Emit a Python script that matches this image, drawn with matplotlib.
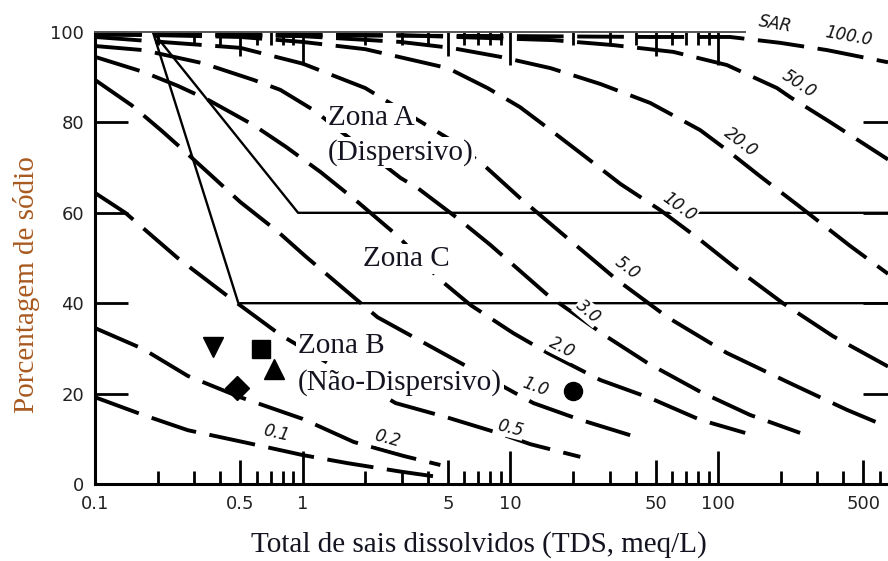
import numpy as np
import matplotlib
matplotlib.use('Agg')
import matplotlib.pyplot as plt
from matplotlib.ticker import NullFormatter

# ---------------------------------------------------------------- data
# SAR curves: total dissolved salts (meq/L) vs percent sodium
tds_sar01 = [0.1, 0.17, 0.28, 0.54, 1.0, 1.65, 3.0, 4.6]
pct_sar01 = [19.2, 15.3, 11.9, 9.1, 6.4, 4.6, 2.7, 1.5]
tds_sar02 = [0.1, 0.17, 0.28, 0.5, 1.0, 1.76, 3.06, 4.6]
pct_sar02 = [34.5, 29.9, 23.9, 19.2, 14.4, 9.3, 6.2, 4.2]
tds_sar05 = [0.1, 0.14, 0.25, 0.44, 0.78, 2.8, 4.9, 8.7, 12.5, 21.7]
pct_sar05 = [64.4, 60.0, 50.0, 41.4, 33.0, 17.9, 14.8, 11.3, 8.8, 6.0]
tds_sar1 = [0.1, 0.15, 0.21, 0.26, 0.36, 0.5, 0.76, 1.03, 1.52, 2.29, 12.9, 21.7, 37.7]
pct_sar1 = [89.4, 83.8, 78.1, 74.3, 68.4, 62.4, 55.8, 50.4, 43.8, 36.9, 17.9, 14.2, 10.8]
tds_sar2 = [0.1, 0.17, 0.25, 0.35, 0.58, 0.83, 1.22, 1.84, 2.86, 4.61, 6.42, 10.3, 15.1,
            27.1, 47.1, 81.9, 135]
pct_sar2 = [94.5, 91.2, 88.1, 85.0, 79.4, 74.6, 69.0, 62.4, 54.9, 45.1, 39.6, 33.4, 29.0,
            23.0, 19.0, 14.2, 11.3]
tds_sar3 = [0.1, 0.17, 0.33, 0.58, 0.78, 1.13, 2.96, 3.57, 5.56, 8.0, 15.1, 21.7, 29.3,
            45.6, 82, 142, 248]
pct_sar3 = [96.9, 96.0, 93.1, 89.4, 87.2, 82.7, 67.7, 65.5, 58.8, 52.9, 41.8, 36.7, 32.5,
            26.8, 20.4, 15.3, 11.3]
tds_sar5 = [0.1, 0.5, 1.0, 2.0, 5.0, 7.42, 11.1, 18.8, 32.7, 57, 110, 222, 417, 657]
pct_sar5 = [98.9, 96.5, 93.0, 87.6, 76.5, 70.6, 63.3, 54.4, 45.1, 36.9, 29.0, 22.3, 16.4, 12.6]
tds_sar10 = [0.1, 0.5, 1.0, 2.0, 5.0, 7.76, 11.1, 15.6, 23.4, 33.8, 52.6, 81.9, 118, 205,
             357, 657]
pct_sar10 = [99.6, 98.9, 97.8, 96.2, 92.0, 87.6, 83.4, 78.3, 72.1, 66.4, 60.6, 54.0, 48.2,
             40.0, 32.7, 26.0]
tds_sar20 = [0.1, 0.98, 2.96, 5.15, 8.95, 15.6, 27.1, 47.1, 81.9, 110, 159, 248, 431, 657]
pct_sar20 = [99.6, 99.1, 97.8, 96.5, 94.5, 92.0, 88.5, 84.3, 78.3, 73.9, 68.1, 61.3, 52.7, 46.5]
tds_sar50 = [0.1, 2.96, 16.1, 31.3, 60.8, 110, 192, 222, 345, 657]
pct_sar50 = [99.6, 99.3, 98.2, 97.1, 95.6, 92.7, 87.6, 85.6, 80.1, 71.8]
tds_sar100 = [0.1, 10, 47, 114, 199, 334, 657]
pct_sar100 = [99.4, 99.1, 98.9, 98.9, 97.6, 96.0, 93.3]

sar_names = ['0.1', '0.2', '0.5', '1.0', '2.0', '3.0', '5.0', '10.0', '20.0', '50.0', '100.0']

# zone boundaries (solid lines)
zone_a_tds = [0.19, 0.95, 657]
zone_a_pct = [100, 60, 60]
zone_b_tds = [0.19, 0.49, 657]
zone_b_pct = [100, 40, 40]

# soil samples
sample_tds = [0.37, 0.63, 0.73, 0.48, 20]
sample_pct = [30.3, 29.9, 25.4, 21.2, 20.6]
sample_marker = ['v', 's', '^', 'D', 'o']

x_ticks = [0.1, 0.5, 1, 5, 10, 50, 100, 500]
x_ticklabels = ['0.1', '0.5', '1', '5', '10', '50', '100', '500']
x_minor = [0.2, 0.3, 0.4, 0.6, 0.7, 0.8, 0.9, 2, 3, 4, 6, 7, 8, 9, 20, 30, 40, 60, 70, 80, 90,
           200, 300, 400, 600]
y_ticks = [0, 20, 40, 60, 80, 100]

# ---------------------------------------------------------------- figure
fig = plt.figure(figsize=(8.88, 5.61), dpi=100)
ax = fig.add_axes([95 / 888, 77 / 561, 793 / 888, 452 / 561])
ax.set_xscale('log')
ax.set_xlim(0.1, 657)
ax.set_ylim(0, 100)

curves = [(tds_sar01, pct_sar01), (tds_sar02, pct_sar02), (tds_sar05, pct_sar05),
          (tds_sar1, pct_sar1), (tds_sar2, pct_sar2), (tds_sar3, pct_sar3),
          (tds_sar5, pct_sar5), (tds_sar10, pct_sar10), (tds_sar20, pct_sar20),
          (tds_sar50, pct_sar50), (tds_sar100, pct_sar100)]
for xs, ys in curves:
    ax.plot(xs, ys, color='black', lw=2.8, dashes=(12, 3.5), dash_capstyle='butt')

ax.plot(zone_a_tds, zone_a_pct, color='black', lw=1.7)
ax.plot(zone_b_tds, zone_b_pct, color='black', lw=1.7)

marker_size = {'v': 14, 's': 13, '^': 14, 'D': 12, 'o': 13}
for xv, yv, m in zip(sample_tds, sample_pct, sample_marker):
    ax.plot(xv, yv, marker=m, color='black', ms=marker_size[m], ls='none', zorder=5)

# curve labels: (x, y, angle)
label_pos = [(0.742, 11.3, -13), (2.54, 10.0, -15), (10.0, 12.4, -14), (13.2, 21.5, -20),
             (17.8, 30.1, -27), (23.7, 38.1, -40), (36.5, 47.8, -37), (64.9, 61.3, -36),
             (129, 75.7, -37), (245, 88.5, -33), (426, 99.1, -10)]
for name, (lx, ly, rot) in zip(sar_names, label_pos):
    ax.text(lx, ly, name, fontsize=12, style='italic', rotation=rot,
            ha='center', va='center', rotation_mode='anchor', color='#111111',
            bbox=dict(facecolor='white', edgecolor='none', pad=0.6), zorder=4)
ax.text(188, 101.8, 'SAR', fontsize=12, style='italic', rotation=-10, ha='center',
        va='center', rotation_mode='anchor', color='#111111', clip_on=False)

serif = ['Liberation Serif', 'DejaVu Serif']
box = dict(facecolor='white', edgecolor='none', pad=1.5)
zone_txt = [(1.319, 79.4, 'Zona A'), (1.319, 71.7, '(Dispersivo)'), (1.94, 48.2, 'Zona C'),
            (0.946, 29.0, 'Zona B'), (0.946, 20.8, '(Não-Dispersivo)')]
for tx, ty, s in zone_txt:
    ax.text(tx, ty, s, fontsize=21, family=serif, color='#141420', ha='left',
            va='baseline', bbox=box, zorder=4)

# ---------------------------------------------------------------- axes
for side in ('left', 'bottom'):
    ax.spines[side].set_linewidth(2.2)
ax.spines['right'].set_visible(False)
ax.spines['top'].set_linewidth(1.4)
ax.spines['top'].set_color('#555555')
ax.spines['top'].set_bounds(0.1, 135)

ax.set_xticks(x_ticks, x_ticklabels)
ax.set_xticks(x_minor, minor=True)
ax.xaxis.set_minor_formatter(NullFormatter())
ax.set_yticks(y_ticks)

tick_font = ['Liberation Sans Narrow', 'DejaVu Sans']
ax.tick_params(axis='x', which='both', direction='in', top=True, width=2,
               labelcolor='#222222')
ax.tick_params(axis='x', which='major', length=17, pad=8, labelsize=13)
ax.tick_params(axis='x', which='minor', length=9.5)
ax.tick_params(axis='y', direction='in', length=24, width=2, right=True, pad=8,
               labelsize=13, labelcolor='#222222')
for lab in ax.get_xticklabels() + ax.get_yticklabels():
    lab.set_family(tick_font)

# longer ticks at the decades, none above the end of the top border
for t, loc in zip(ax.xaxis.get_major_ticks(), x_ticks):
    if loc in (1, 10, 100):
        t.tick1line.set_markersize(24)
        t.tick2line.set_markersize(24)
    if loc > 135:
        t.tick2line.set_visible(False)
for t, loc in zip(ax.xaxis.get_minor_ticks(), x_minor):
    if loc > 135:
        t.tick2line.set_visible(False)
for t, loc in zip(ax.yaxis.get_major_ticks(), y_ticks):
    t.tick2line.set_markersize(18)
    if loc in (0, 100):
        t.tick2line.set_visible(False)

fig.text(479 / 888, 9 / 561, 'Total de sais dissolvidos (TDS, meq/L)', fontsize=21,
         family=serif, color='#141420', ha='center', va='baseline')
fig.text(27 / 888, 1 - 285 / 561, 'Porcentagem de sódio', fontsize=21, family=serif,
         color='#a85a20', rotation=90, ha='center', va='center')

fig.savefig('out.png', dpi=100)
